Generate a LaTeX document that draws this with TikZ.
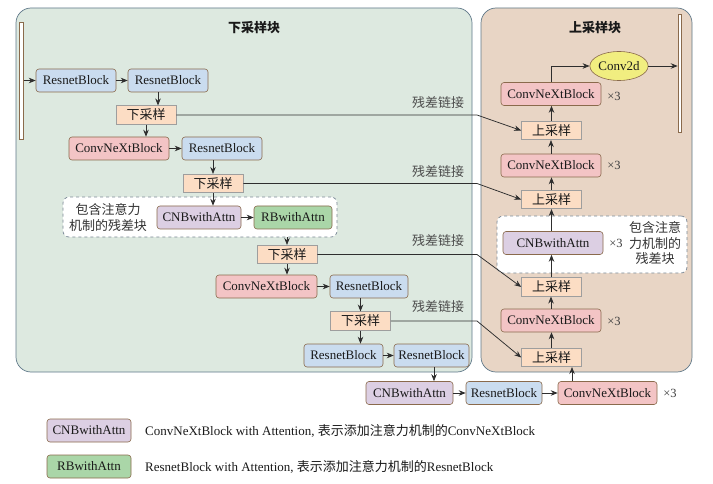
\documentclass[tikz,border=0pt]{standalone}
\usepackage{fontspec}
\setmainfont{Liberation Serif}
\newfontfamily\cjk{Noto Sans CJK SC}
\usetikzlibrary{arrows.meta,shapes.geometric}
\definecolor{panG}{HTML}{DDE9E0}
\definecolor{panT}{HTML}{E8D5C5}
\definecolor{panB}{HTML}{5F7889}
\definecolor{bBrown}{HTML}{8A6A4C}
\definecolor{cBlue}{HTML}{CADCEF}
\definecolor{cPink}{HTML}{F3C4C5}
\definecolor{cPeach}{HTML}{FCDDC4}
\definecolor{cLav}{HTML}{DCCFE3}
\definecolor{cGreen}{HTML}{AAD6A8}
\definecolor{cYel}{HTML}{F1EE80}
\definecolor{arrC}{HTML}{2E2E2E}
\definecolor{txt}{HTML}{1A1A1A}
\definecolor{dashC}{HTML}{7A8896}
\begin{document}
\begin{tikzpicture}[x=1pt,y=-1pt,
  font=\fontsize{13}{15.5}\selectfont, text=txt,
  blk/.style={draw=bBrown, rounded corners=3pt, minimum height=23pt, inner xsep=2pt, inner ysep=0pt, line width=0.6pt},
  res/.style={blk, fill=cBlue},
  cnx/.style={blk, fill=cPink},
  cnb/.style={blk, fill=cLav},
  rba/.style={blk, fill=cGreen},
  samp/.style={draw=black!38, fill=cPeach, minimum height=18.5pt, minimum width=60pt, inner sep=0pt, line width=0.6pt, font=\cjk\fontsize{13}{15}\selectfont},
  arr/.style={draw=arrC, line width=0.75pt, -{Stealth[length=7pt,width=5.5pt]}},
  panel/.style={draw=panB, line width=0.7pt, rounded corners=15pt},
  dbox/.style={draw=dashC, dashed, fill=white, rounded corners=6pt, line width=0.7pt, inner sep=0pt},
  barn/.style={draw=bBrown, fill=white, line width=0.6pt, inner sep=0pt, minimum width=3.5pt},
  times/.style={font=\fontsize{12.5}{14}\selectfont, text=black!75},
  skiplbl/.style={font=\cjk\fontsize{13}{15}\selectfont, text=black!70},
  cjklbl/.style={font=\cjk\fontsize{13}{15.5}\selectfont, align=center, text=black!80},
  ttl/.style={font=\cjk\bfseries\fontsize{13}{15}\selectfont, text=black!90}
]
\useasboundingbox (0,0) rectangle (713,484);
% panels
\draw[panel, fill=panG] (16,8) rectangle (472,372);
\draw[panel, fill=panT] (481,8) rectangle (692,372);
\node[ttl] (tl) at (254,28) {下采样块};
\node[ttl] (tr) at (595,28) {上采样块};
% bars
\node[barn, minimum height=117pt] (barL) at (21.5,80.5) {};
\node[barn, minimum height=118pt] (barR) at (679.8,73) {};
% dashed boxes
\node[dbox, minimum width=274pt, minimum height=40pt] (dbL) at (200,217) {};
\node[dbox, minimum width=190pt, minimum height=57pt] (dbR) at (592,244.5) {};
\node[cjklbl] (dtl) at (108,217.5) {包含注意力\\机制的残差块};
\node[cjklbl] (dtr) at (655,243.5) {包含注意\\力机制的\\残差块};
% left column
\node[res, minimum width=80pt] (rb1) at (76,80.5) {ResnetBlock};
\node[res, minimum width=80pt] (rb2) at (168,80.5) {ResnetBlock};
\node[samp] (ds1) at (146,115) {下采样};
\node[cnx, minimum width=100pt] (cn1) at (119,148.5) {ConvNeXtBlock};
\node[res, minimum width=80pt] (rb3) at (222,148.5) {ResnetBlock};
\node[samp] (ds2) at (213,183.5) {下采样};
\node[cnb, minimum width=84pt] (cnba1) at (199,217.5) {CNBwithAttn};
\node[rba, minimum width=78pt] (rba1) at (293,217.5) {RBwithAttn};
\node[samp] (ds3) at (287,254.5) {下采样};
\node[cnx, minimum width=101pt] (cn2) at (266.5,286.5) {ConvNeXtBlock};
\node[res, minimum width=78pt] (rb4) at (369,286.5) {ResnetBlock};
\node[samp] (ds4) at (360.5,321) {下采样};
\node[res, minimum width=79pt] (rb5) at (343.5,355.5) {ResnetBlock};
\node[res, minimum width=75pt] (rb6) at (431.5,355.5) {ResnetBlock};
% bottom row
\node[cnb, minimum width=87pt] (cnba2) at (409.5,393) {CNBwithAttn};
\node[res, minimum width=76pt] (rb7) at (504,393) {ResnetBlock};
\node[cnx, minimum width=99pt] (cn3) at (607.5,393) {ConvNeXtBlock};
\node[times] (x1) at (670,393.5) {×3};
% right column
\node[samp] (us4) at (551.5,357.5) {上采样};
\node[cnx, minimum width=100pt] (cn4) at (551,320.5) {ConvNeXtBlock};
\node[times] (x2) at (614,321.5) {×3};
\node[samp] (us3) at (551.5,287) {上采样};
\node[cnb, minimum width=100pt] (cnba3) at (553,243) {CNBwithAttn};
\node[times] (x3) at (616,243.5) {×3};
\node[samp] (us2) at (551.5,199.5) {上采样};
\node[cnx, minimum width=100pt] (cn5) at (551,165.5) {ConvNeXtBlock};
\node[times] (x4) at (614,165.5) {×3};
\node[samp] (us1) at (551.5,130.5) {上采样};
\node[cnx, minimum width=100pt] (cn6) at (551,94) {ConvNeXtBlock};
\node[times] (x5) at (614,96) {×3};
\node[ellipse, draw=bBrown, fill=cYel, line width=0.6pt, minimum width=46pt, minimum height=29pt, inner sep=0pt] (cv) at (619,66) {Conv2d};
% coordinates for off-centre verticals
\coordinate (c158) at (158,0);
\coordinate (c434) at (434,0);
\coordinate (c572) at (572,0);
\coordinate (bend) at (477,0);
% arrows left
\draw[arr] (barL.east |- rb1.west) -- (rb1.west);
\draw[arr] (rb1) -- (rb2);
\draw[arr] (c158 |- rb2.south) -- (c158 |- ds1.north);
\draw[arr] (ds1.south) -- (ds1.south |- cn1.north);
\draw[arr] (cn1) -- (rb3);
\draw[arr] (ds2.north |- rb3.south) -- (ds2.north);
\draw[arr] (ds2.south) -- (ds2.south |- cnba1.north);
\draw[arr] (cnba1) -- (rba1);
\draw[arr] (ds3.north |- dbL.south) -- (ds3.north);
\draw[arr] (ds3.south) -- (ds3.south |- cn2.north);
\draw[arr] (cn2) -- (rb4);
\draw[arr] (ds4.north |- rb4.south) -- (ds4.north);
\draw[arr] (ds4.south) -- (ds4.south |- rb5.north);
\draw[arr] (rb5) -- (rb6);
\draw[arr] (c434 |- rb6.south) -- (c434 |- cnba2.north);
\draw[arr] (cnba2) -- (rb7);
\draw[arr] (rb7) -- (cn3);
\draw[arr] (c572 |- cn3.north) -- (c572 |- us4.south);
% arrows right
\draw[arr] (us4.north) -- (us4.north |- cn4.south);
\draw[arr] (cn4.north) -- (cn4.north |- us3.south);
\draw[arr] (us3.north) -- (us3.north |- cnba3.south);
\draw[arr] (us3.north |- cnba3.north) -- (us2.south);
\draw[arr] (us2.north) -- (us2.north |- cn5.south);
\draw[arr] (cn5.north) -- (cn5.north |- us1.south);
\draw[arr] (us1.north) -- (us1.north |- cn6.south);
\draw[arr] (cn6.north) |- (cv.west);
\draw[arr] (cv.east) -- (cv.east -| barR.west);
% skip connections
\draw[arr] (ds1.east) -- (bend |- ds1.east) -- (us1.west);
\draw[arr] (ds2.east) -- (bend |- ds2.east) -- (us2.west);
\draw[arr] (ds3.east) -- (bend |- ds3.east) -- (us3.west);
\draw[arr] (ds4.east) -- (bend |- ds4.east) -- (us4.west);
\node[skiplbl] (s1) at (438,103) {残差链接};
\node[skiplbl] (s2) at (438,172) {残差链接};
\node[skiplbl] (s3) at (438,241) {残差链接};
\node[skiplbl] (s4) at (438,307) {残差链接};
% legend
\node[cnb, minimum width=84pt] (lg1) at (89,430.5) {CNBwithAttn};
\node[rba, minimum width=84pt] (lg2) at (89,466.5) {RBwithAttn};
\node[anchor=west, inner sep=0pt] (lt1) at (145,431) {ConvNeXtBlock with Attention, {\cjk 表示添加注意力机制的}ConvNeXtBlock};
\node[anchor=west, inner sep=0pt] (lt2) at (145,466.5) {ResnetBlock with Attention, {\cjk 表示添加注意力机制的}ResnetBlock};
\end{tikzpicture}
\end{document}
